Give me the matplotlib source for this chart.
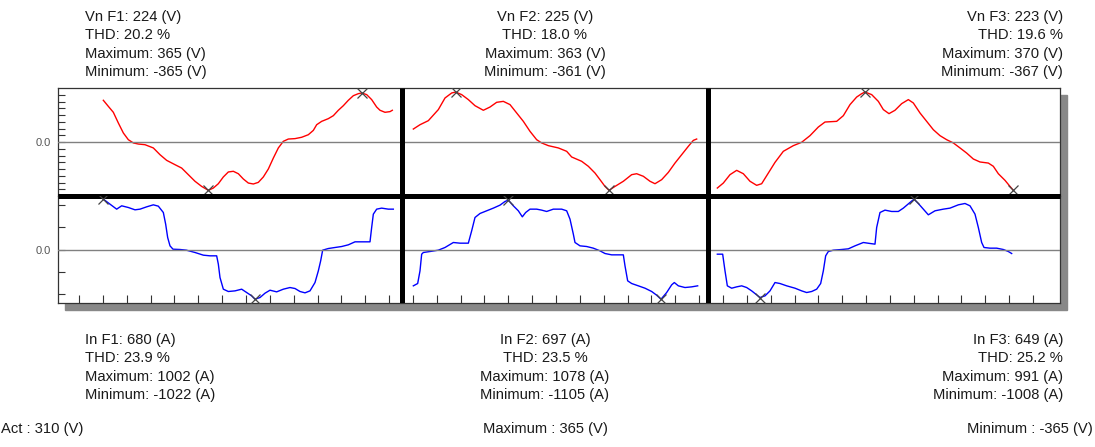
import matplotlib
matplotlib.use('Agg')
import matplotlib.pyplot as plt
from matplotlib.patches import Rectangle
import numpy as np

plt.rcParams['font.family'] = ['Liberation Sans', 'DejaVu Sans']

# waveform readings: sample index along the sweep, value in V or A
t_vn1 = [136, 151, 166, 181, 196, 211, 226, 241, 261, 286, 306, 326, 351, 371, 391,
         411, 431, 451, 466, 481, 496, 511, 526, 541, 556, 571, 586, 601, 616, 631,
         646, 661, 676, 691, 711, 731, 751, 766, 776, 791, 811, 826, 841, 856, 871,
         886, 901, 911, 926, 941, 956, 966, 981, 996, 1003]
vn1 = [309, 264, 220, 141, 67, 17, -7, -15, -20, -44, -94, -136, -168, -193, -242,
       -291, -329, -358, -341, -309, -259, -222, -217, -235, -274, -304, -311, -299, -259, -200,
       -119, -44, 5, 22, 25, 35, 54, 86, 128, 153, 173, 195, 235, 269, 309,
       343, 358, 363, 351, 314, 259, 235, 220, 225, 235]

t_in1 = [136, 156, 176, 191, 211, 231, 246, 266, 286, 301, 316, 323, 329, 336, 345,
         366, 385, 411, 436, 456, 476, 481, 486, 496, 511, 531, 551, 566, 581, 591,
         606, 621, 636, 656, 676, 696, 711, 726, 741, 756, 771, 781, 788, 794, 811,
         831, 851, 871, 891, 911, 936, 941, 946, 956, 971, 991, 1006]
in1 = [1129, 1017, 905, 980, 942, 890, 905, 957, 1002, 972, 830, 568, 269, 82, 7,
       0, -15, -67, -127, -142, -142, -329, -628, -890, -942, -928, -890, -965, -1040, -1115,
       -1077, -980, -913, -950, -890, -853, -875, -942, -972, -928, -741, -479, -254, -15, 22,
       45, 67, 105, 172, 172, 172, 494, 793, 905, 928, 905, 905]

t_vn2 = [1066, 1086, 1111, 1141, 1161, 1181, 1193, 1211, 1231, 1251, 1276, 1296, 1316, 1336, 1356,
         1376, 1396, 1416, 1436, 1451, 1471, 1501, 1526, 1541, 1571, 1591, 1611, 1626, 1641, 1653,
         1671, 1696, 1721, 1736, 1756, 1776, 1791, 1811, 1831, 1851, 1871, 1891, 1906, 1916]
vn2 = [96, 128, 158, 240, 326, 363, 370, 351, 314, 269, 235, 259, 294, 301, 277,
       215, 153, 79, 17, -7, -27, -44, -69, -111, -143, -180, -230, -279, -329, -358,
       -329, -291, -242, -235, -254, -291, -309, -279, -225, -156, -94, -32, 12, 22]

t_in2 = [1066, 1079, 1086, 1091, 1096, 1116, 1141, 1161, 1186, 1206, 1231, 1241, 1251, 1266, 1286,
         1306, 1326, 1341, 1351, 1366, 1381, 1393, 1403, 1416, 1436, 1451, 1466, 1486, 1511, 1526,
         1536, 1546, 1551, 1566, 1586, 1606, 1626, 1641, 1661, 1681, 1696, 1701, 1709, 1721, 1741,
         1761, 1781, 1796, 1809, 1826, 1841, 1849, 1861, 1881, 1901, 1919]
in2 = [-815, -763, -479, -105, -67, -45, -15, 45, 157, 142, 142, 419, 718, 808, 868,
       928, 995, 1077, 1107, 980, 868, 733, 830, 905, 905, 883, 853, 905, 905, 868,
       681, 344, 157, 82, 67, 30, -30, -90, -120, -120, -120, -367, -703, -763, -815,
       -868, -942, -1025, -1115, -965, -793, -741, -815, -853, -838, -815]

t_vn3 = [1978, 1996, 2016, 2036, 2056, 2076, 2096, 2111, 2131, 2151, 2176, 2206, 2231, 2256, 2281,
         2301, 2336, 2356, 2376, 2396, 2411, 2421, 2441, 2461, 2476, 2493, 2511, 2531, 2551, 2566,
         2586, 2606, 2626, 2646, 2666, 2686, 2706, 2726, 2746, 2766, 2791, 2806, 2821, 2841, 2856,
         2866]
vn3 = [-341, -304, -242, -210, -235, -291, -321, -309, -230, -151, -69, -27, -2, 47, 111,
       148, 153, 195, 277, 333, 358, 370, 351, 301, 240, 210, 235, 284, 314, 289,
       215, 153, 91, 47, 17, -7, -44, -82, -126, -148, -156, -180, -235, -284, -329,
       -358]

t_in3 = [1978, 1994, 2001, 2008, 2021, 2036, 2051, 2066, 2081, 2096, 2106, 2121, 2136, 2151, 2166,
         2186, 2211, 2231, 2246, 2261, 2276, 2288, 2296, 2303, 2311, 2326, 2351, 2371, 2391, 2416,
         2436, 2451, 2456, 2466, 2481, 2501, 2521, 2536, 2556, 2568, 2581, 2596, 2611, 2631, 2656,
         2676, 2701, 2721, 2736, 2751, 2761, 2771, 2778, 2796, 2816, 2836, 2851, 2861]
in3 = [-105, -105, -479, -815, -868, -838, -815, -853, -928, -1017, -1077, -1040, -928, -741, -763,
       -815, -868, -928, -965, -942, -890, -763, -479, -142, -45, -15, 0, 15, 82, 157,
       135, 120, 494, 830, 883, 853, 853, 928, 1055, 1129, 1032, 905, 778, 868, 905,
       928, 1002, 1032, 980, 793, 494, 157, 45, 30, 30, 0, -45, -90]

n_samples = 3006          # samples across the whole sweep
phase_edges = [1032, 1950]  # where one phase window ends and the next starts
tick_first, tick_step, n_ticks = 63, 71.55, 41

v_labels = [["Vn F1: 224 (V)", "THD: 20.2 %", "Maximum: 365 (V)", "Minimum: -365 (V)"],
            ["Vn F2: 225 (V)", "THD: 18.0 %", "Maximum: 363 (V)", "Minimum: -361 (V)"],
            ["Vn F3: 223 (V)", "THD: 19.6 %", "Maximum: 370 (V)", "Minimum: -367 (V)"]]
i_labels = [["In F1: 680 (A)", "THD: 23.9 %", "Maximum: 1002 (A)", "Minimum: -1022 (A)"],
            ["In F2: 697 (A)", "THD: 23.5 %", "Maximum: 1078 (A)", "Minimum: -1105 (A)"],
            ["In F3: 649 (A)", "THD: 25.2 %", "Maximum: 991 (A)", "Minimum: -1008 (A)"]]
footer = ["Act : 310 (V)", "Maximum : 365 (V)", "Minimum : -365 (V)"]

W, H = 1095, 447
fig = plt.figure(figsize=(W / 100, H / 100), dpi=100)

# drop shadow behind the plot frame
fig.patches.append(Rectangle((65 / W, 1 - 310 / H), 1002 / W, 215 / H,
                             transform=fig.transFigure, color='#888888', zorder=-1))

ax_v = fig.add_axes([58 / W, 1 - 196 / H, 1002 / W, 108 / H])
ax_i = fig.add_axes([58 / W, 1 - 303 / H, 1002 / W, 107 / H])

frame = '#333333'
for ax in (ax_v, ax_i):
    ax.set_xlim(0, n_samples)
    for s in ax.spines.values():
        s.set_color(frame)
        s.set_linewidth(0.9)
    ax.axhline(0, color='#808080', lw=1.0, zorder=3)
    for e in phase_edges:
        ax.axvline(e, color='black', lw=3.6, zorder=5, solid_capstyle='butt')
for sp in (ax_v.spines['bottom'], ax_i.spines['top']):
    sp.set_color('black')
    sp.set_linewidth(3.6)
    sp.set_capstyle('butt')

ax_v.set_ylim(-400, 400)
ax_i.set_ylim(-1200, 1200)

for t, v in [(t_vn1, vn1), (t_vn2, vn2), (t_vn3, vn3)]:
    t, v = np.array(t), np.array(v)
    ax_v.plot(t, v, color='#ff0000', lw=1.0, zorder=2)
    for k in (v.argmax(), v.argmin()):
        ax_v.plot(t[k], v[k], marker='x', color='#444444', ms=7.5, mew=0.9, zorder=4)

for t, c in [(t_in1, in1), (t_in2, in2), (t_in3, in3)]:
    t, c = np.array(t), np.array(c)
    ax_i.plot(t, c, color='#0000ff', lw=1.0, zorder=2)
    for k in (c.argmax(), c.argmin()):
        ax_i.plot(t[k], c[k], marker='x', color='#444444', ms=7.5, mew=0.9, zorder=4)

ax_v.set_yticks([0], ['0.0'])
ax_v.set_yticks(np.arange(-350, 351, 50), minor=True)
ax_i.set_yticks([0], ['0.0'])
ax_i.set_yticks(np.arange(-1000, 1001, 500), minor=True)
for ax in (ax_v, ax_i):
    ax.tick_params(axis='y', which='both', direction='in', length=5, width=0.8,
                   color=frame, labelsize=8, labelcolor='#555555', pad=5)
ax_v.tick_params(axis='x', bottom=False, labelbottom=False)
ax_i.set_xticks(tick_first + tick_step * np.arange(n_ticks))
ax_i.tick_params(axis='x', direction='in', length=6, width=0.8, color=frame,
                 labelbottom=False)

txt = dict(fontsize=10.6, color='#1a1a1a', va='baseline')
xs = [(85, 'left'), (545, 'center'), (1063, 'right')]
for (x, ha), vl, il in zip(xs, v_labels, i_labels):
    for j, s in enumerate(vl):
        fig.text(x / W, 1 - (21 + 18.3 * j) / H, s, ha=ha, **txt)
    for j, s in enumerate(il):
        fig.text(x / W, 1 - (344 + 18.3 * j) / H, s, ha=ha, **txt)
for (x, ha), s in zip([(1, 'left'), (545, 'center'), (1093, 'right')], footer):
    fig.text(x / W, 1 - 433 / H, s, ha=ha, **txt)

fig.savefig('out.png', dpi=100)
